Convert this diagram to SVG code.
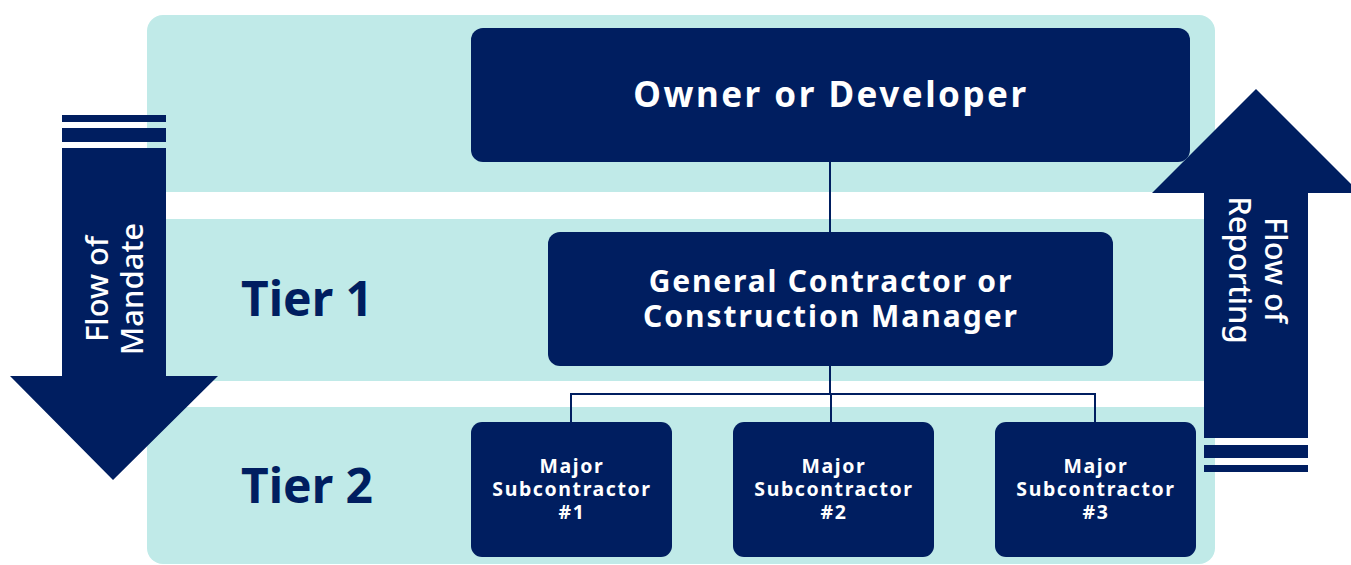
<svg xmlns="http://www.w3.org/2000/svg" width="1351" height="565" viewBox="0 0 1351 565">
<style>
.navy{fill:#001e60}
.box{fill:#001e60}
.wt{fill:#ffffff;font-family:"Noto Sans","Open Sans",sans-serif;font-weight:700;text-anchor:middle}
.at{fill:#ffffff;font-family:"Noto Sans","Open Sans",sans-serif;font-weight:500;font-size:31px;text-anchor:middle}
.tier{fill:#001e60;font-family:"Noto Sans","Open Sans",sans-serif;font-weight:700;font-size:48px;text-anchor:middle}
.conn{stroke:#001e60;stroke-width:2;fill:none}
.sub{font-size:19.5px;letter-spacing:1.6px}
</style>
<rect x="147" y="15" width="1068" height="549" rx="16" fill="#c0eae8"/>
<rect x="147" y="192" width="1068" height="27" fill="#ffffff"/>
<rect x="147" y="381" width="1068" height="26" fill="#ffffff"/>
<g id="tier1"><text class="tier" x="307" y="316">Tier 1</text></g>
<g id="tier2"><text class="tier" x="307" y="503">Tier 2</text></g>
<g id="connectors">
<line class="conn" x1="830" y1="162" x2="830" y2="232"/>
<line class="conn" x1="830" y1="366" x2="830" y2="394"/>
<polyline class="conn" points="571,422 571,394 1095,394 1095,422"/>
<line class="conn" x1="831" y1="394" x2="831" y2="422"/>
</g>
<g id="owner">
<rect class="box" x="471" y="28" width="719" height="134" rx="12"/>
<text class="wt" x="831" y="107" font-size="35" letter-spacing="2.5">Owner or Developer</text>
</g>
<g id="gc">
<rect class="box" x="548" y="232" width="565" height="134" rx="12"/>
<text class="wt" x="831" y="292" font-size="30" letter-spacing="1.8">General Contractor or</text>
<text class="wt" x="831" y="327" font-size="30" letter-spacing="2">Construction Manager</text>
</g>
<g id="sub1">
<rect class="box" x="471" y="422" width="201" height="135" rx="11"/>
<text class="wt sub" x="572" y="473">Major</text>
<text class="wt sub" x="572" y="496">Subcontractor</text>
<text class="wt sub" x="572" y="519">#1</text>
</g>
<g id="sub2">
<rect class="box" x="733" y="422" width="201" height="135" rx="11"/>
<text class="wt sub" x="834" y="473">Major</text>
<text class="wt sub" x="834" y="496">Subcontractor</text>
<text class="wt sub" x="834" y="519">#2</text>
</g>
<g id="sub3">
<rect class="box" x="995" y="422" width="201" height="135" rx="11"/>
<text class="wt sub" x="1096" y="473">Major</text>
<text class="wt sub" x="1096" y="496">Subcontractor</text>
<text class="wt sub" x="1096" y="519">#3</text>
</g>
<g id="mandate-arrow">
<rect class="navy" x="62" y="115" width="104" height="7"/>
<rect class="navy" x="62" y="128" width="104" height="14"/>
<polygon class="navy" points="62,148 166,148 166,376 218,376 113,480 10,376 62,376"/>
<g transform="rotate(-90)">
<text class="at" x="-289" y="108">Flow of</text>
<text class="at" x="-289" y="143">Mandate</text>
</g>
</g>
<g id="reporting-arrow">
<polygon class="navy" points="1204,438 1204,193 1152,193 1256,89 1360,193 1308,193 1308,438"/>
<rect class="navy" x="1204" y="445" width="104" height="13"/>
<rect class="navy" x="1204" y="465" width="104" height="7"/>
<g transform="rotate(90)">
<text class="at" x="270" y="-1265">Flow of</text>
<text class="at" x="270" y="-1229">Reporting</text>
</g>
</g>
</svg>
